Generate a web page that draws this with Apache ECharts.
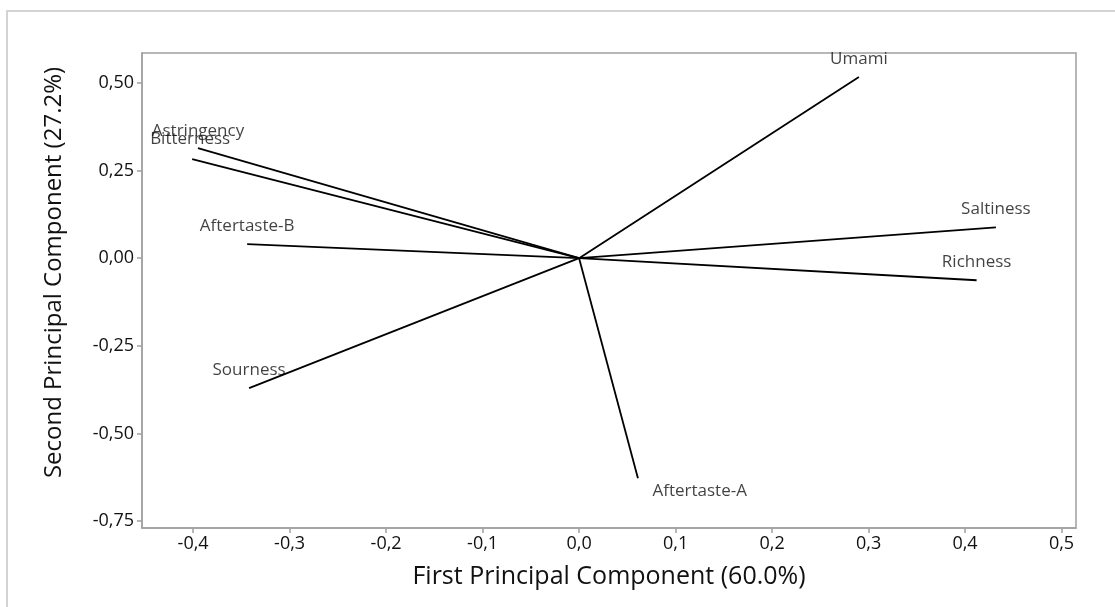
<!DOCTYPE html>
<html>
<head>
<meta charset="utf-8">
<script src="https://cdn.jsdelivr.net/npm/echarts@6/dist/echarts.min.js"></script>
<style>
html,body{margin:0;padding:0;background:#fff;}
#c{width:1115px;height:607px;}
</style>
</head>
<body>
<div id="c"></div>
<script>
// Data
const attributes = ['Umami','Saltiness','Richness','Astringency','Bitterness','Aftertaste-B','Sourness','Aftertaste-A'];
const pc1 = [0.290, 0.432, 0.412, -0.395, -0.401, -0.344, -0.342, 0.061];
const pc2 = [0.517, 0.088, -0.063, 0.314, 0.283, 0.040, -0.371, -0.628];
const xTicks = [-0.4,-0.3,-0.2,-0.1,0.0,0.1,0.2,0.3,0.4,0.5];
const yTicks = [-0.75,-0.5,-0.25,0,0.25,0.5];
const xTitle = 'First Principal Component (60.0%)';
const yTitle = 'Second Principal Component (27.2%)';

const FONT = '"Open Sans", "DejaVu Sans", sans-serif';
const labelStyles = {
  'Aftertaste-A': {position:'right', distance: 14, offset:[0, 13]},
  'Bitterness': {position:'top', distance: 11, offset:[-2, 0]},
  'Astringency': {position:'top', distance: 8, offset:[0, 0]}
};

const series = [];
attributes.forEach((name, i) => {
  series.push({
    type:'line', name: name, data: [[0,0],[pc1[i], pc2[i]]],
    symbol:'none', silent:true, animation:false,
    lineStyle:{color:'#000', width:1.8}
  });
});
series.push({
  type:'scatter', animation:false, silent:true,
  symbolSize: 1, itemStyle:{color:'rgba(0,0,0,0)'},
  data: attributes.map((name,i) => {
    const ls = labelStyles[name] || {position:'top', distance: 9, offset:[0,0]};
    return {value:[pc1[i], pc2[i]], name: name,
      label:{show:true, formatter: name, position: ls.position, distance: ls.distance, offset: ls.offset,
        color:'#111', fontSize:17, fontFamily: FONT}};
  })
});

const fmt = (v, d) => v.toFixed(d).replace('.', ',');

const chart = echarts.init(document.getElementById('c'), null, {renderer:'canvas'});
chart.setOption({
  animation:false,
  backgroundColor:'#fff',
  graphic:[{type:'rect', shape:{x:7, y:11, width:1200, height:700},
    style:{fill:'none', stroke:'#d4d4d4', lineWidth:2}, silent:true, z:-10}],
  grid:{left:142, right:39, top:53, bottom:79, show:true, borderColor:'#a0a0a0', borderWidth:1.5, backgroundColor:'#fff'},
  xAxis:{type:'value', min:-0.453, max:0.515,
    axisLine:{show:true, onZero:false, lineStyle:{color:'#a0a0a0', width:1.5}},
    axisTick:{show:true, customValues: xTicks, length:5, lineStyle:{color:'#a0a0a0', width:1.5}},
    axisLabel:{show:true, customValues: xTicks, formatter: v => fmt(v,1), color:'#111', fontSize:18, fontFamily: FONT, margin:7},
    splitLine:{show:false},
    name: xTitle, nameLocation:'middle', nameGap:36,
    nameTextStyle:{fontSize:25, color:'#111', fontFamily: FONT}
  },
  yAxis:{type:'value', min:-0.77, max:0.5856,
    axisLine:{show:true, onZero:false, lineStyle:{color:'#a0a0a0', width:1.5}},
    axisTick:{show:true, customValues: yTicks, length:5, lineStyle:{color:'#a0a0a0', width:1.5}},
    axisLabel:{show:true, customValues: yTicks, formatter: v => fmt(v,2), color:'#111', fontSize:18, fontFamily: FONT, margin:8},
    splitLine:{show:false},
    name: yTitle, nameLocation:'middle', nameGap:76, nameRotate:90,
    nameTextStyle:{fontSize:24, color:'#111', fontFamily: FONT, padding:[0,0,0,36]}
  },
  series: series
});
</script>
</body>
</html>
